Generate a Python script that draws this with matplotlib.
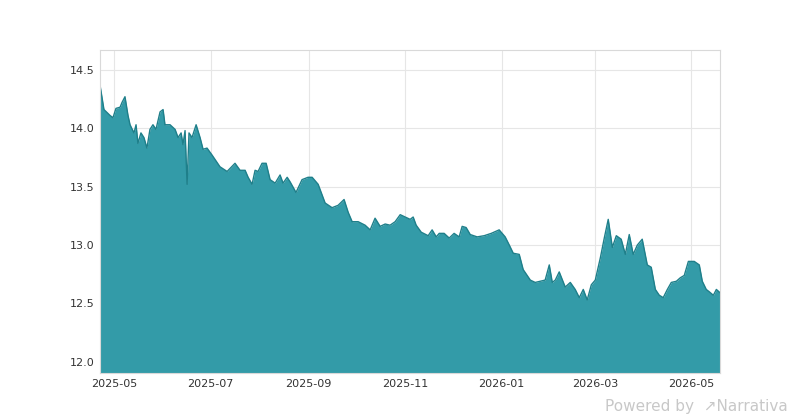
import matplotlib
matplotlib.use("Agg")
import matplotlib.pyplot as plt
import matplotlib.dates as mdates
import numpy as np
import pandas as pd

start = "2025-04-22"
days = [0,2.5,6.3,8.2,10.1,12.7,13.9,15.8,17.7,19,21.5,22.8,24,25.9,27.8,29.7,31.6,33.5,35.4,38,39.9,41.1,44.3,47.5,49.4,51.3,52.5,53.8,55.1,56.3,58.2,60.8,63.3,65.2,67.7,70.9,75.9,80.4,85.4,88.6,91.8,93.7,96.2,98.1,100,102.5,105.1,107.6,110.8,113.9,115.8,118.4,120.3,124,127.8,131.6,134.2,138,142.4,146.8,150.6,154.4,157,159.5,163.3,167.7,170.9,174,177.2,180.4,183.5,186.7,189.9,193,196.2,198.1,200,203.2,207.6,210.1,212.7,214.6,217.7,220.9,224,227.2,229.1,231.6,234.2,238.6,243,247.5,252.5,256.3,258.9,261.4,265.2,267.7,272.2,275.3,278.5,281.6,284.2,286.1,288,290.5,294.3,297.5,300.6,303.2,305.7,308.2,310.8,313.3,316.5,319,321.5,324.1,326.6,329.7,332.3,334.8,337.3,339.9,343,346.2,348.7,351.3,353.8,356.3,358.9,361.4,364.6,367.1,369.6,372.2,375.9,379.1,381,383.5,385.4,388,389.9,392.4,396.2]
values = [14.37,14.16,14.11,14.09,14.17,14.18,14.22,14.27,14.11,14.03,13.96,14.03,13.87,13.96,13.92,13.83,13.99,14.03,13.99,14.14,14.16,14.03,14.03,13.99,13.92,13.96,13.86,13.98,13.52,13.96,13.92,14.03,13.92,13.82,13.83,13.77,13.67,13.63,13.70,13.64,13.64,13.58,13.52,13.64,13.63,13.70,13.70,13.56,13.53,13.60,13.53,13.58,13.54,13.45,13.56,13.58,13.58,13.52,13.36,13.32,13.34,13.39,13.28,13.20,13.20,13.17,13.13,13.23,13.16,13.18,13.17,13.20,13.26,13.24,13.22,13.24,13.17,13.11,13.08,13.13,13.07,13.10,13.10,13.06,13.10,13.07,13.16,13.15,13.09,13.07,13.08,13.10,13.13,13.07,13.00,12.93,12.92,12.79,12.70,12.68,12.69,12.70,12.83,12.68,12.70,12.77,12.64,12.68,12.62,12.55,12.62,12.53,12.66,12.70,12.89,13.06,13.22,12.98,13.08,13.05,12.92,13.09,12.92,13.00,13.05,12.83,12.81,12.62,12.57,12.55,12.62,12.68,12.69,12.72,12.74,12.86,12.86,12.83,12.69,12.62,12.60,12.57,12.62,12.59,12.62,12.64]

n = min(len(days), len(values))
dates = pd.Timestamp(start) + pd.to_timedelta(np.array(days[:n]), unit="D")
vals = np.array(values[:n])

fig = plt.figure(figsize=(8, 4.2), dpi=100)
ax = fig.add_axes([0.125, 0.112, 0.775, 0.769])
ymin = 11.905
ax.fill_between(dates, vals, ymin, color="#339ba8", linewidth=0)
ax.plot(dates, vals, color="#1f7f8a", linewidth=1.0)
ax.set_ylim(ymin, 14.67)
ax.set_xlim(dates[0], dates[-1] - pd.Timedelta(days=4))
ax.set_yticks([12.0, 12.5, 13.0, 13.5, 14.0, 14.5])
ax.set_yticklabels(["12.0", "12.5", "13.0", "13.5", "14.0", "14.5"])
ax.xaxis.set_major_locator(mdates.MonthLocator(bymonth=[1, 3, 5, 7, 9, 11]))
ax.xaxis.set_major_formatter(mdates.DateFormatter("%Y-%m"))
ax.grid(True, color="#e6e6e6", linewidth=0.8)
ax.set_axisbelow(True)
for s in ax.spines.values():
    s.set_color("#d9d9d9")
ax.tick_params(length=0, labelsize=8, colors="#333333", pad=4)
fig.text(0.985, 0.015, "Powered by  \u2197Narrativa", ha="right", va="bottom",
         fontsize=11, color="#c8c8c8")
fig.savefig("out.png")
